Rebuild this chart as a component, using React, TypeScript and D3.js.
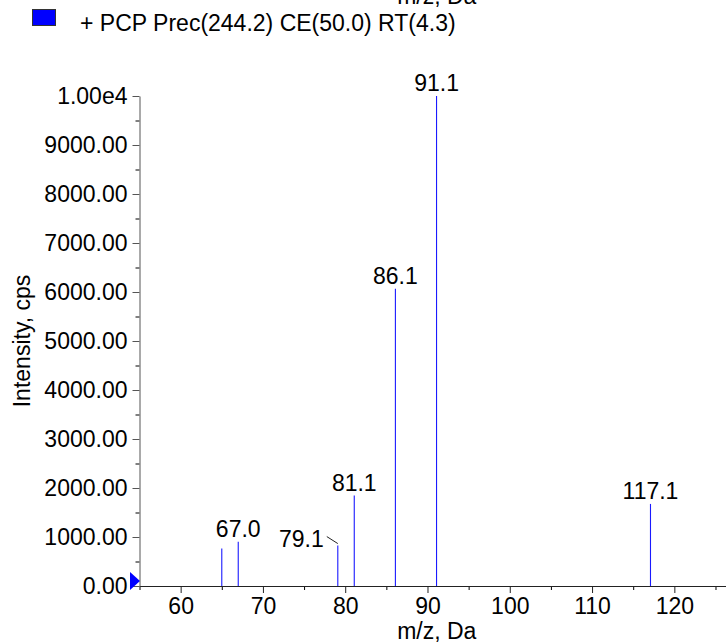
import { useEffect, useRef } from 'react';
import * as d3 from 'd3';

// peak list
const peakMz = [65.0, 67.0, 79.1, 81.1, 86.1, 91.1, 117.1];
const peakIntensity = [765, 905, 825, 1845, 6065, 10000, 1675];
const peakLabels = ['', '67.0', '79.1', '81.1', '86.1', '91.1', '117.1'];

const xMajorTicks = [60, 70, 80, 90, 100, 110, 120];
const xMinorTicks = [55, 65, 75, 85, 95, 105, 115, 125];
const yMajorTicks = [0, 1000, 2000, 3000, 4000, 5000, 6000, 7000, 8000, 9000, 10000];
const yMinorTicks = [500, 1500, 2500, 3500, 4500, 5500, 6500, 7500, 8500, 9500];

const legendText = '+ PCP Prec(244.2) CE(50.0) RT(4.3)';
const xTitle = 'm/z, Da';
const yTitle = 'Intensity, cps';

const App = () => {
  const svgRef = useRef<SVGSVGElement | null>(null);

  const width = 726;
  const height = 643;
  const marginLeft = 139.5;
  const plotRight = 734;
  const plotTop = 96;
  const plotBottom = 586;
  const font = '"Liberation Sans", Arial, sans-serif';
  const fontSize = 23;

  useEffect(() => {
    const svgElement = svgRef.current;
    if (!svgElement) return;

    const svg = d3.select(svgElement);
    svg.selectAll('*').remove();

    const x = d3.scaleLinear().domain([55, 127.25]).range([marginLeft, plotRight]);
    const y = d3.scaleLinear().domain([0, 10000]).range([plotBottom, plotTop]);

    const fmtY = (v: number) => (v === 10000 ? '1.00e4' : d3.format('.2f')(v));

    // minor ticks first so the main axis draws on top
    svg.append('g')
      .attr('transform', `translate(0,${plotBottom})`)
      .call(d3.axisBottom(x).tickValues(xMinorTicks).tickSize(4).tickSizeOuter(0).tickFormat(() => ''))
      .call(g => g.select('.domain').remove());

    svg.append('g')
      .attr('transform', `translate(${marginLeft},0)`)
      .call(d3.axisLeft(y).tickValues(yMinorTicks).tickSize(4).tickSizeOuter(0).tickFormat(() => ''))
      .call(g => g.select('.domain').remove());

    const xAxis = svg.append('g')
      .attr('transform', `translate(0,${plotBottom})`)
      .call(d3.axisBottom(x).tickValues(xMajorTicks).tickSize(7).tickSizeOuter(0).tickPadding(5).tickFormat(d => String(d)));

    const yAxis = svg.append('g')
      .attr('transform', `translate(${marginLeft},0)`)
      .call(d3.axisLeft(y).tickValues(yMajorTicks).tickSize(7).tickSizeOuter(0).tickPadding(5).tickFormat(d => fmtY(+d)));

    [xAxis, yAxis].forEach(g => {
      g.selectAll('text')
        .attr('font-family', font)
        .attr('font-size', fontSize)
        .attr('fill', '#000');
    });
    xAxis.selectAll('line, path').attr('stroke', '#222');
    yAxis.selectAll('line, path').attr('stroke', '#555');

    // zero marker
    svg.append('path')
      .attr('d', `M130,572 L140,581 L130,590 Z`)
      .attr('fill', '#0000ff');

    const peaks = peakMz.map((mz, i) => ({ mz, v: peakIntensity[i], label: peakLabels[i] }));

    svg.append('g')
      .selectAll('line')
      .data(peaks)
      .join('line')
      .attr('x1', d => x(d.mz))
      .attr('x2', d => x(d.mz))
      .attr('y1', y(0))
      .attr('y2', d => y(d.v))
      .attr('stroke', '#1a1aff')
      .attr('stroke-width', 1.1);

    const labelled = peaks.filter(d => d.label !== '');
    const shifted = (d: { label: string }) => d.label === '79.1';

    svg.append('g')
      .selectAll('text')
      .data(labelled)
      .join('text')
      .attr('x', d => (shifted(d) ? x(d.mz) - 14 : x(d.mz)))
      .attr('y', d => (shifted(d) ? y(d.v) + 1 : y(d.v) - 5))
      .attr('text-anchor', d => (shifted(d) ? 'end' : 'middle'))
      .attr('font-family', font)
      .attr('font-size', fontSize)
      .attr('fill', '#000')
      .text(d => d.label);

    // leader line for the displaced label
    labelled.filter(shifted).forEach(d => {
      svg.append('line')
        .attr('x1', x(d.mz) - 11)
        .attr('y1', y(d.v) - 9)
        .attr('x2', x(d.mz))
        .attr('y2', y(d.v) - 2)
        .attr('stroke', '#222')
        .attr('stroke-width', 1);
    });

    // axis titles
    svg.append('text')
      .attr('x', (marginLeft + plotRight) / 2)
      .attr('y', 639)
      .attr('text-anchor', 'middle')
      .attr('font-family', font)
      .attr('font-size', fontSize)
      .text(xTitle);

    svg.append('text')
      .attr('transform', `translate(30,${(plotTop + plotBottom) / 2}) rotate(-90)`)
      .attr('text-anchor', 'middle')
      .attr('font-family', font)
      .attr('font-size', fontSize)
      .text(yTitle);

    // title of the panel above, cut off by the crop
    svg.append('text')
      .attr('x', (marginLeft + plotRight) / 2)
      .attr('y', 4)
      .attr('text-anchor', 'middle')
      .attr('font-family', font)
      .attr('font-size', fontSize)
      .text(xTitle);

    // legend
    svg.append('rect')
      .attr('x', 32.5)
      .attr('y', 9.5)
      .attr('width', 23)
      .attr('height', 16)
      .attr('fill', '#0000ff')
      .attr('stroke', '#333');

    svg.append('text')
      .attr('x', 80)
      .attr('y', 31)
      .attr('font-family', font)
      .attr('font-size', fontSize)
      .text(legendText);
  }, []);

  return (
    <svg
      ref={svgRef}
      width={width}
      height={height}
      style={{ position: 'absolute', left: 0, top: 0, background: '#fff' }}
    />
  );
};

export default App;
